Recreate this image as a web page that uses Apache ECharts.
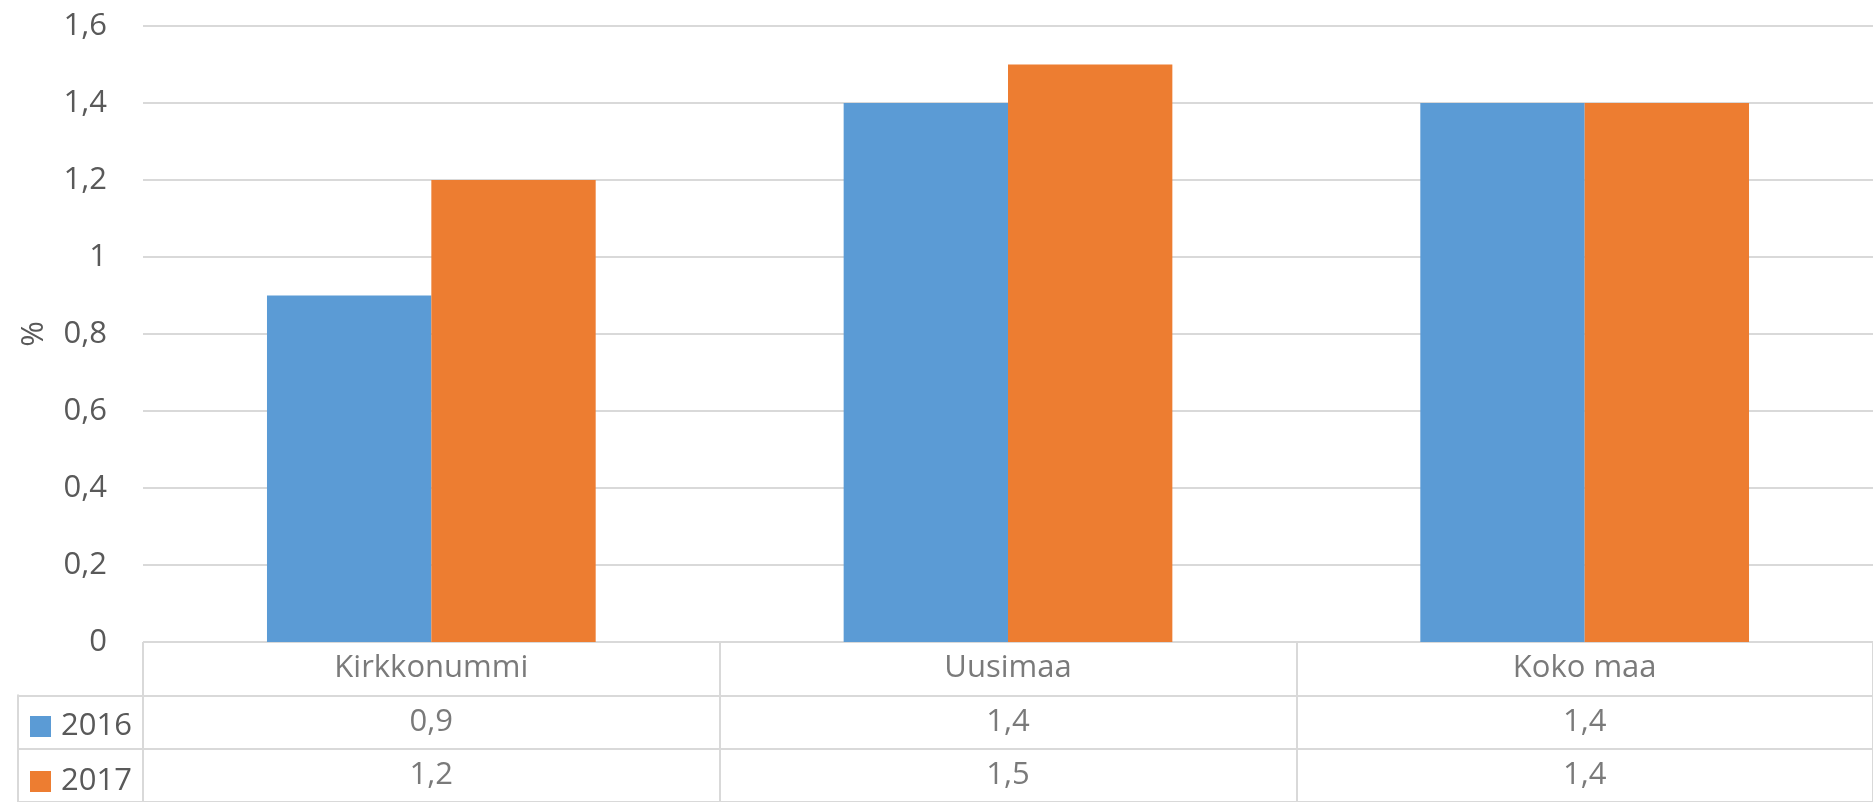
<!DOCTYPE html>
<html>
<head>
<meta charset="utf-8">
<script src="https://cdn.jsdelivr.net/npm/echarts@6/dist/echarts.min.js"></script>
<style>
html,body{margin:0;padding:0;background:#fff;}
#chart{width:1873px;height:802px;}
</style>
</head>
<body>
<div id="chart"></div>
<script>
const categories = ['Kirkkonummi', 'Uusimaa', 'Koko maa'];
const seriesNames = ['2016', '2017'];
const values2016 = [0.9, 1.4, 1.4];
const values2017 = [1.2, 1.5, 1.4];
const yMin = 0, yMax = 1.6, yInterval = 0.2;
const yAxisTitle = '%';

const FONT = 'Open Sans';
const TXT = '#595959';
const LINE = '#d9d9d9';
const COLORS = ['#5B9BD5', '#ED7D31'];

function fmt(v) {
  return String(Math.round(v * 10) / 10).replace('.', ',');
}

const allValues = [values2016, values2017];
const tableData = [];
categories.forEach((c, i) => {
  tableData.push([i, 0, c]);
  allValues.forEach((arr, s) => tableData.push([i, s + 1, fmt(arr[i])]));
});

const ROW = 160 / 3;
const legends = seriesNames.map((n, s) => ({
  data: [n],
  orient: 'vertical',
  left: 30,
  top: 711 + s * 55,
  padding: 0,
  itemWidth: 21,
  itemHeight: 21,
  icon: 'rect',
  selectedMode: false,
  textStyle: {fontFamily: FONT, fontSize: 31, color: TXT, lineHeight: 21, padding: [0, 0, 0, 5]}
}));

const chart = echarts.init(document.getElementById('chart'), null, {renderer: 'canvas'});
chart.setOption({
  animation: false,
  textStyle: {fontFamily: FONT},
  grid: [
    {left: 143, top: 26, width: 1746, height: 616},
    {left: 143, top: 642, width: 1746, height: 160},
    {left: 18, top: 642 + ROW, width: 125, height: ROW * 2}
  ],
  legend: legends,
  xAxis: [
    {type: 'category', gridIndex: 0, data: categories,
     axisLine: {show: false}, axisTick: {show: false}, axisLabel: {show: false}, splitLine: {show: false}},
    {type: 'category', gridIndex: 1, data: categories,
     axisLine: {show: false}, axisTick: {show: false}, axisLabel: {show: false},
     splitLine: {show: true, lineStyle: {color: LINE, width: 2}}},
    {type: 'value', gridIndex: 2, show: false, min: 0, max: 1}
  ],
  yAxis: [
    {type: 'value', gridIndex: 0, min: yMin, max: yMax, interval: yInterval,
     name: yAxisTitle, nameLocation: 'middle', nameRotate: 90, nameGap: 93,
     nameTextStyle: {fontFamily: FONT, fontSize: 31, color: TXT},
     axisLine: {show: false}, axisTick: {show: false},
     axisLabel: {fontFamily: FONT, fontSize: 31, color: TXT, margin: 36, formatter: v => fmt(v)},
     splitLine: {show: true, lineStyle: {color: LINE, width: 2}}},
    {type: 'category', gridIndex: 1, inverse: true, data: ['', ...seriesNames],
     axisLine: {show: false}, axisTick: {show: false}, axisLabel: {show: false},
     splitLine: {show: true, lineStyle: {color: LINE, width: 2}}},
    {type: 'category', gridIndex: 2, inverse: true, data: seriesNames,
     axisLine: {show: true, lineStyle: {color: LINE, width: 2}}, axisTick: {show: false}, axisLabel: {show: false},
     splitLine: {show: true, lineStyle: {color: LINE, width: 2}}}
  ],
  series: [
    {name: seriesNames[0], type: 'bar', xAxisIndex: 0, yAxisIndex: 0, data: values2016,
     barGap: '0%', barCategoryGap: '43%', itemStyle: {color: COLORS[0]}, silent: true},
    {name: seriesNames[1], type: 'bar', xAxisIndex: 0, yAxisIndex: 0, data: values2017,
     barGap: '0%', barCategoryGap: '43%', itemStyle: {color: COLORS[1]}, silent: true},
    {type: 'scatter', xAxisIndex: 1, yAxisIndex: 1, data: tableData, symbolSize: 0, silent: true,
     label: {show: true, position: 'inside', fontFamily: FONT, fontSize: 31, color: TXT,
             formatter: p => p.data[2]}}
  ]
});
</script>
</body>
</html>
